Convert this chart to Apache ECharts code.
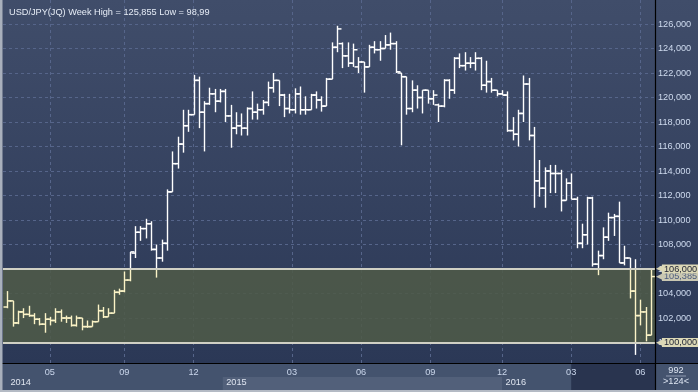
<!DOCTYPE html>
<html><head><meta charset="utf-8">
<script src="https://cdn.jsdelivr.net/npm/echarts@6/dist/echarts.min.js"></script>
<style>html,body{margin:0;padding:0;background:#2c3957}#c{width:698px;height:392px}</style>
</head><body><div id="c"></div>
<script>
// ---- data (weekly USD/JPY bars) ----
const opens = [102.9,103.4,101.6,102.5,102.3,102.2,101.9,101.5,101.9,101.8,102.5,102.0,102.0,101.4,102.0,101.3,101.3,101.7,102.6,102.1,102.4,104.1,104.2,105.1,107.3,109.0,109.3,109.7,107.6,106.9,108.1,112.3,114.6,116.2,117.7,118.6,121.4,118.8,119.5,120.3,119.7,120.5,118.5,117.5,117.7,117.5,119.1,118.8,119.0,119.6,120.8,121.4,120.2,119.1,119.0,120.3,119.0,119.0,120.2,119.8,119.3,121.5,124.1,124.4,123.4,122.8,122.5,122.9,122.5,124.1,123.9,124.0,124.3,124.4,122.0,121.7,119.1,120.6,120.0,120.6,119.9,119.4,119.3,121.4,120.6,123.2,122.6,122.8,122.8,123.2,121.0,121.3,120.6,120.3,120.2,117.3,117.0,118.7,121.1,116.9,113.2,112.6,114.0,113.8,113.8,111.6,113.0,111.7,108.1,108.8,111.8,106.4,107.1,108.6,110.2,110.3,106.5,106.9,104.2,102.2,102.5,100.6];
const highs = [104.2,103.4,102.6,102.8,103.0,102.4,102.0,102.4,102.1,102.8,102.7,102.2,102.2,102.2,102.0,101.8,101.8,103.1,102.9,102.8,104.3,104.4,105.8,107.4,109.5,109.5,110.1,109.9,108.0,108.4,112.5,115.6,116.8,119.0,119.0,121.85,121.7,119.7,120.8,120.7,120.7,120.7,119.4,118.8,118.7,119.2,120.5,119.5,119.8,121.3,122.0,121.4,120.3,120.3,120.75,120.9,120.1,120.3,120.5,120.1,121.6,124.5,125.855,124.5,124.5,124.4,123.3,122.9,124.3,124.6,124.6,125.1,125.3,124.6,122.0,121.7,121.4,121.0,120.6,120.6,120.6,119.5,121.5,121.5,123.3,123.6,123.7,123.3,123.7,123.3,123.0,121.6,120.6,120.6,120.5,118.4,119.0,121.8,121.6,117.6,114.9,114.3,114.5,114.5,114.1,113.4,113.8,111.9,109.7,111.9,111.9,107.5,109.4,110.6,110.5,111.5,107.9,106.9,106.8,103.5,102.9,106.0];
const lows = [102.8,101.3,101.5,102.0,102.1,101.5,101.4,100.8,101.4,101.6,101.7,101.6,101.3,101.3,101.0,101.2,101.3,101.7,102.0,102.1,102.4,103.9,104.1,105.0,106.9,108.3,108.5,107.5,105.3,106.6,107.5,112.3,114.2,115.5,117.2,118.6,117.5,115.6,119.4,118.8,119.6,118.0,115.9,117.0,116.9,116.9,118.2,118.2,118.6,119.3,120.4,119.3,118.4,118.7,118.7,118.6,118.6,119.0,119.1,118.85,119.3,121.5,123.7,122.4,122.5,122.5,122.0,120.4,122.5,123.6,123.0,124.0,123.9,122.0,116.1,118.6,118.8,119.1,118.7,119.5,119.4,118.0,119.2,119.9,120.3,122.4,122.2,122.4,122.2,120.6,120.4,120.4,120.1,120.2,117.2,116.5,116.0,118.0,116.5,111.0,111.9,111.0,112.2,112.2,110.7,111.6,111.7,107.7,107.7,108.0,106.2,105.5,106.8,108.3,108.7,106.5,106.3,103.6,98.99,101.4,100.1,100.6];
const closes = [103.4,101.6,102.5,102.3,102.2,101.9,101.5,101.9,101.8,102.5,102.0,102.0,101.4,102.0,101.3,101.3,101.7,102.6,102.1,102.4,104.1,104.2,105.1,107.4,109.0,109.3,109.7,107.6,106.9,108.1,112.3,114.6,116.2,117.7,118.6,121.4,118.8,119.5,120.3,119.7,120.5,118.5,117.5,117.7,117.5,119.1,118.8,119.0,119.6,120.8,121.4,120.2,119.1,119.0,120.3,119.0,119.0,120.2,119.8,119.3,121.5,124.1,125.6,123.4,122.8,123.9,122.9,122.5,124.1,123.9,124.0,124.3,124.4,122.1,121.7,119.1,120.6,120.0,120.6,119.9,120.2,119.3,121.4,120.6,123.2,122.6,122.8,122.8,123.2,121.0,121.3,120.6,120.3,120.2,117.3,117.0,118.7,121.1,116.9,113.2,112.6,114.0,113.8,113.8,111.6,113.0,111.7,108.1,108.8,111.8,106.4,107.1,108.6,110.2,110.3,106.5,106.9,104.2,102.2,102.5,100.6,105.385];
const monthLabels = ['05','09','12','03','06','09','12','03','06'];
const monthAt = [8, 22, 35, 53.5, 66.5, 79.5, 93, 106, 119];
const yearLabels = ['2014','2015','2016'];
const yearAt = [-0.81, 40.5, 93];
const yTicks = [100,102,104,106,108,110,112,114,116,118,120,122,124,126];
const band = [100, 106];
const lastPrice = 105.385;
const titleText = 'USD/JPY(JQ) Week High = 125,855 Low = 98,99';
const counterTop = '992';
const counterBottom = '>124<';
const shadedFrom = 106;

// ---- layout / style ----
const W = 698, H = 392;
const GRID = {left: 3, right: 43, top: 0, bottom: 29};
const FONT = 'Liberation Sans';
const FS = 9.2;
const WHITE = '#ffffff', CREAM = '#fbf3c6';
const fmt = v => v.toFixed(3).replace('.', ',');

const chart = echarts.init(document.getElementById('c'), null, {renderer: 'canvas', width: W, height: H});
const data = opens.map((o, i) => [i, o, highs[i], lows[i], closes[i]]);
const inBand = v => v >= band[0] && v <= band[1];

function renderItem(params, api) {
  const i = api.value(0), o = api.value(1), h = api.value(2), l = api.value(3), c = api.value(4);
  const step = api.size([1, 0])[0];
  const tick = step * 0.75;
  const xp = Math.round(api.coord([i, h])[0]) + 0.5;
  const yOf = v => api.coord([i, v])[1];
  const cuts = [l, h];
  band.forEach(b => { if (b > l && b < h) cuts.push(b); });
  cuts.sort((a, b) => a - b);
  const children = [];
  for (let k = 0; k < cuts.length - 1; k++) {
    const mid = (cuts[k] + cuts[k + 1]) / 2;
    children.push({type: 'line', shape: {x1: xp, y1: yOf(cuts[k]), x2: xp, y2: yOf(cuts[k + 1])},
      style: {stroke: inBand(mid) ? CREAM : WHITE, lineWidth: 1.4}});
  }
  children.push({type: 'line', shape: {x1: xp - tick, y1: yOf(o), x2: xp, y2: yOf(o)},
    style: {stroke: inBand(o) ? CREAM : WHITE, lineWidth: 1.5}});
  children.push({type: 'line', shape: {x1: xp, y1: yOf(c), x2: xp + tick, y2: yOf(c)},
    style: {stroke: inBand(c) ? CREAM : WHITE, lineWidth: 1.5}});
  return {type: 'group', children};
}

const tagRich = (bg, fg) => ({
  a: {color: bg, fontSize: 9, fontFamily: 'DejaVu Sans', padding: [0, -1, 0, 0]},
  b: {backgroundColor: bg, color: fg, fontSize: FS, fontFamily: FONT, padding: [0, 2, 0, 2], lineHeight: 9}
});

const option = {
  animation: false,
  backgroundColor: {type: 'linear', x: 0, y: 0, x2: 0, y2: 1,
    colorStops: [{offset: 0, color: '#404d6a'}, {offset: 0.93, color: '#2b3856'}, {offset: 1, color: '#2b3856'}]},
  textStyle: {fontFamily: FONT},
  title: {text: titleText, left: 4, top: 2.5, textStyle: {fontSize: FS, color: '#e6ecf6', fontWeight: 'normal', fontFamily: FONT}},
  grid: GRID,
  xAxis: {
    type: 'value', min: -0.81, max: 121.75,
    axisLine: {show: false},
    axisTick: {show: false, customValues: monthAt},
    splitLine: {show: true, lineStyle: {color: '#56658a', type: [3, 3], width: 1}},
    axisLabel: {customValues: monthAt, margin: 5, fontSize: FS, fontFamily: FONT,
      formatter: v => monthLabels[monthAt.indexOf(v)],
      color: (v) => monthAt.indexOf(v) === monthAt.length - 1 ? '#6e7c98' : '#cbd7ec'}
  },
  yAxis: {
    type: 'value', position: 'right', min: 98.33, max: 127.96, scale: true,
    axisLine: {show: false},
    axisTick: {show: false, customValues: yTicks},
    splitLine: {show: true, lineStyle: {color: '#56658a', type: [3, 3], width: 1}},
    axisLabel: {customValues: yTicks, margin: 3, fontSize: FS, fontFamily: FONT, color: '#cfdbef', formatter: v => fmt(v)}
  },
  series: [{
    type: 'custom', renderItem, data, clip: true,
    encode: {x: 0, y: [1, 2, 3, 4]},
    markArea: {silent: true, itemStyle: {color: 'rgba(78,90,72,0.88)'}, data: [[{yAxis: band[0]}, {yAxis: band[1]}]]},
    markLine: {
      silent: true, symbol: ['none', 'none'], animation: false, precision: 3,
      lineStyle: {color: '#d0d0c4', width: 2, type: 'solid'},
      label: {position: 'end', distance: 1, formatter: p => '{a|\u25C0}{b|' + fmt(Number(p.value)) + '}', rich: tagRich('#dcd8b6', '#1d2233')},
      data: [
        {yAxis: lastPrice, lineStyle: {color: 'rgba(0,0,0,0)', width: 0}, label: {rich: tagRich('#c9c7b2', '#4a5a7c')}},
        {yAxis: band[1]},
        {yAxis: band[0]}
      ]
    }
  }]
};
chart.setOption(option);

// ---- bottom panel decorations positioned via the x scale ----
const px = v => chart.convertToPixel({xAxisIndex: 0}, v);
const plotR = W - GRID.right, plotB = H - GRID.bottom;
const gfx = [];
gfx.push({type: 'rect', z: -10, shape: {x: 0, y: plotB, width: W, height: H - plotB}, style: {fill: '#44536e'}});
gfx.push({type: 'rect', z: -9, shape: {x: px(yearAt[1]), y: plotB + 14, width: px(yearAt[2]) - px(yearAt[1]), height: H - 2 - plotB - 14}, style: {fill: '#52607a'}});
gfx.push({type: 'rect', z: -9, shape: {x: px(shadedFrom), y: plotB + 1, width: plotR - px(shadedFrom), height: H - 3 - plotB}, style: {fill: '#29344f'}});
gfx.push({type: 'line', z: 5, shape: {x1: 0, y1: plotB + 0.5, x2: W, y2: plotB + 0.5}, style: {stroke: '#000', lineWidth: 1.2}});
gfx.push({type: 'line', z: 5, shape: {x1: plotR + 0.5, y1: 0, x2: plotR + 0.5, y2: H - 2}, style: {stroke: '#000', lineWidth: 1.2}});
gfx.push({type: 'rect', z: 6, shape: {x: 0, y: 0, width: 2.5, height: H}, style: {fill: '#a9b0bc'}});
gfx.push({type: 'rect', z: 6, shape: {x: 0, y: H - 2, width: W, height: 2}, style: {fill: '#b4bac4'}});
yearLabels.forEach((t, k) => {
  gfx.push({type: 'text', z: 10, x: Math.max(px(yearAt[k]), 3) + (k === 0 ? 7.5 : 3.5), y: plotB + 19.5,
    style: {text: t, fill: '#dfe5f0', font: FS + 'px "' + FONT + '"', verticalAlign: 'middle'}});
});
const cx = (plotR + W) / 2 - 0.5;
gfx.push({type: 'text', z: 10, x: cx, y: plotB + 7, style: {text: counterTop, fill: '#dde5f2', font: FS + 'px "' + FONT + '"', align: 'center', verticalAlign: 'middle'}});
gfx.push({type: 'line', z: 10, shape: {x1: cx - 10, y1: plotB + 13, x2: cx + 10, y2: plotB + 13}, style: {stroke: '#8e9ab0', lineWidth: 1}});
gfx.push({type: 'text', z: 10, x: cx, y: plotB + 18.5, style: {text: counterBottom, fill: '#dde5f2', font: FS + 'px "' + FONT + '"', align: 'center', verticalAlign: 'middle'}});
chart.setOption({graphic: {elements: gfx}});
</script>
</body></html>
